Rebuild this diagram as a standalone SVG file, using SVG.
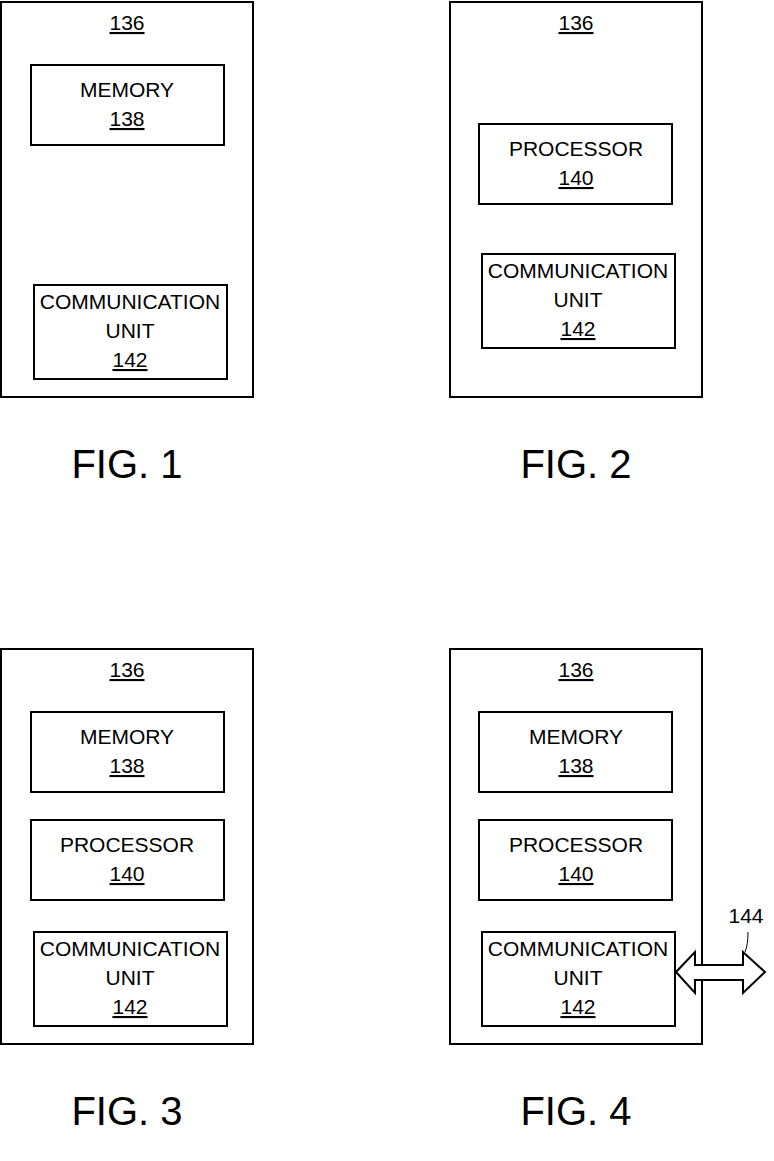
<svg xmlns="http://www.w3.org/2000/svg" width="774" height="1161" viewBox="0 0 774 1161">
<style>
rect{fill:#fff;stroke:#000;stroke-width:2}
text{font-family:"Liberation Sans",Arial,sans-serif;font-size:21px;text-anchor:middle;fill:#000}
.u{text-decoration:underline}
.fig{font-size:40px}
</style>
<rect x="0" y="0" width="774" height="1161" style="stroke:none"/>
<g id="fig1">
<rect x="1" y="2" width="252" height="395"/><text x="127" y="30" class="u">136</text>
<g id="f1-mem"><rect x="31" y="65" width="193" height="80"/><text x="127" y="97">MEMORY</text><text x="127" y="126" class="u">138</text></g>
<g id="f1-com"><rect x="34" y="285" width="193" height="94"/><text x="130" y="309">COMMUNICATION</text><text x="130" y="338">UNIT</text><text x="130" y="367" class="u">142</text></g>
<text x="127" y="478" class="fig">FIG. 1</text>
</g>
<g id="fig2">
<rect x="450" y="2" width="252" height="395"/><text x="576" y="30" class="u">136</text>
<g id="f2-proc"><rect x="479" y="124" width="193" height="80"/><text x="576" y="156">PROCESSOR</text><text x="576" y="185" class="u">140</text></g>
<g id="f2-com"><rect x="482" y="254" width="193" height="94"/><text x="578" y="278">COMMUNICATION</text><text x="578" y="307">UNIT</text><text x="578" y="336" class="u">142</text></g>
<text x="576" y="478" class="fig">FIG. 2</text>
</g>
<g id="fig3">
<rect x="1" y="649" width="252" height="395"/><text x="127" y="677" class="u">136</text>
<g id="f3-mem"><rect x="31" y="712" width="193" height="80"/><text x="127" y="744">MEMORY</text><text x="127" y="773" class="u">138</text></g>
<g id="f3-proc"><rect x="31" y="820" width="193" height="80"/><text x="127" y="852">PROCESSOR</text><text x="127" y="881" class="u">140</text></g>
<g id="f3-com"><rect x="34" y="932" width="193" height="94"/><text x="130" y="956">COMMUNICATION</text><text x="130" y="985">UNIT</text><text x="130" y="1014" class="u">142</text></g>
<text x="127" y="1125" class="fig">FIG. 3</text>
</g>
<g id="fig4">
<rect x="450" y="649" width="252" height="395"/><text x="576" y="677" class="u">136</text>
<g id="f4-mem"><rect x="479" y="712" width="193" height="80"/><text x="576" y="744">MEMORY</text><text x="576" y="773" class="u">138</text></g>
<g id="f4-proc"><rect x="479" y="820" width="193" height="80"/><text x="576" y="852">PROCESSOR</text><text x="576" y="881" class="u">140</text></g>
<g id="f4-com"><rect x="482" y="932" width="193" height="94"/><text x="578" y="956">COMMUNICATION</text><text x="578" y="985">UNIT</text><text x="578" y="1014" class="u">142</text></g>
<text x="576" y="1125" class="fig">FIG. 4</text>
</g>
<g id="connectors">
<path d="M676,972 L695,952 L695,965 L743,965 L743,952 L765,972 L743,993 L743,980 L695,980 L695,993 Z" fill="#fff" stroke="#000" stroke-width="2"/>
<path d="M748,932 Q748,945 745,952" fill="none" stroke="#000" stroke-width="1"/>
<text x="746" y="923">144</text>
</g>
</svg>
